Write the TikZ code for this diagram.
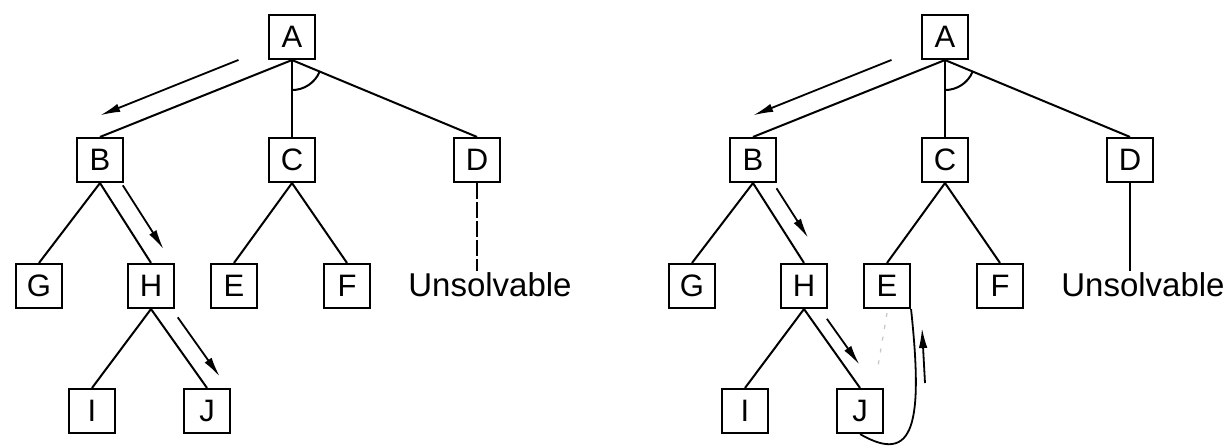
\documentclass[tikz,border=0pt]{standalone}
\usepackage{fontspec}
\setmainfont{Liberation Sans}
\usetikzlibrary{calc,arrows.meta}

\tikzset{
  box/.style={draw,line width=2.1pt,minimum width=46pt,minimum height=44pt,
    inner sep=0pt,font=\fontsize{31}{31}\selectfont},
  edge/.style={line width=2pt},
  walk/.style={line width=1.8pt,-{Latex[length=20pt,width=8.5pt]}}
}

\begin{document}
\begin{tikzpicture}[x=1pt,y=-1pt]
  \path[use as bounding box,fill=white] (0,0) rectangle (1227,446);

  % the same tree twice, left (l) and right (r)
  \foreach \dx/\t in {0/l,653/r}{
    \begin{scope}[xshift=\dx pt,name prefix=\t]
      \node[box] (A) at (292,37) {A};
      \node[box] (B) at (100,160) {B};
      \node[box] (C) at (292,160) {C};
      \node[box] (D) at (477,160) {D};
      \node[box] (G) at (39,286) {G};
      \node[box] (H) at (151,286) {H};
      \node[box] (E) at (234,286) {E};
      \node[box] (F) at (347,286) {F};
      \node[box] (I) at (92,411) {I};
      \node[box] (J) at (207,411) {J};
      \node[anchor=base,inner sep=2pt,font=\fontsize{33}{33}\selectfont]
        (U) at (490,297) {Unsolvable};
      \draw[edge] (A.south) -- (B.north);
      \draw[edge] (A.south) -- (C.north);
      \draw[edge] (A.south) -- (D.north);
      \draw[edge] (B.south) -- (G.north);
      \draw[edge] (B.south) -- (H.north);
      \draw[edge] (C.south) -- (E.north);
      \draw[edge] (C.south) -- (F.north);
      \draw[edge] (H.south) -- (I.north);
      \draw[edge] (H.south) -- (J.north);
      % and-arc
      \draw[edge] (A.south) ++(0,30) arc[start angle=-90,end angle=-23,radius=30pt];
    \end{scope}
  }

  \draw[edge,dash pattern=on 16pt off 3pt] (lD.south) -- (lU.north -| lD.south);
  \draw[edge] (rD.south) -- (rU.north -| rD.south);

  % left search path
  \draw[walk] ($(lA.south)!0.24!(lB.north)!20pt!-90:(lB.north)$)
    -- ($(lA.south)!0.96!(lB.north)!20pt!-90:(lB.north)$);
  \draw[walk] ($(lB.south)!0.15!(lH.north)!18pt!90:(lH.north)$)
    -- ($(lB.south)!0.95!(lH.north)!18pt!90:(lH.north)$);
  \draw[walk] ($(lH.south)!0.23!(lJ.north)!17pt!90:(lJ.north)$)
    -- ($(lH.south)!0.98!(lJ.north)!17pt!90:(lJ.north)$);

  % right search path
  \draw[walk] ($(rA.south)!0.24!(rB.north)!20pt!-90:(rB.north)$)
    -- ($(rA.south)!0.96!(rB.north)!20pt!-90:(rB.north)$);
  \draw[walk] ($(rB.south)!0.18!(rH.north)!17pt!90:(rH.north)$)
    -- ($(rB.south)!0.80!(rH.north)!17pt!90:(rH.north)$);
  \draw[walk] ($(rH.south)!0.22!(rJ.north)!13pt!90:(rJ.north)$)
    -- ($(rH.south)!0.80!(rJ.north)!13pt!90:(rJ.north)$);

  \coordinate (f1) at (887,313);
  \coordinate (f2) at (877,372);
  \draw[gray!45,line width=1.2pt,dash pattern=on 4pt off 8pt] (f1) -- (f2);

  \draw[line width=1.8pt] (rE.south east) .. controls +(12,113) and +(55,32) .. (rJ.south);
  \coordinate (up1) at (925,383);
  \coordinate (up2) at (922,328);
  \draw[walk] (up1) -- (up2);
\end{tikzpicture}
\end{document}
